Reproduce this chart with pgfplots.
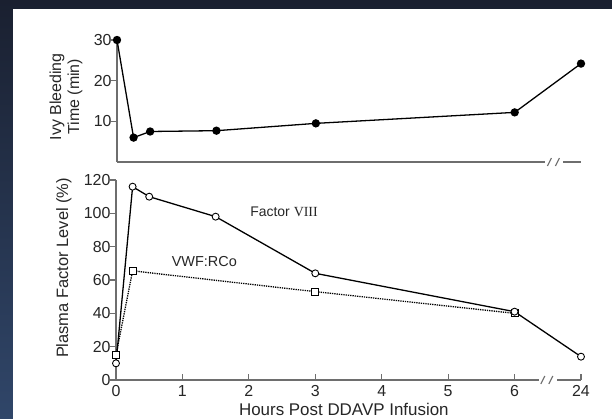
\documentclass[border=0pt]{standalone}
\usepackage{pgfplots}
\pgfplotsset{compat=1.18}
\usepackage{fontspec}
\setmainfont{Liberation Sans}
\newfontfamily\seriffont{Liberation Serif}
\definecolor{bgtop}{HTML}{1A2030}
\definecolor{bgbot}{HTML}{304669}
\definecolor{axgray}{HTML}{6E6E6E}
\pgfplotsset{
  panel/.style={
    scale only axis,
    axis lines=left,
    axis line style={-, draw=axgray, line width=1.1pt},
    tick style={draw=axgray, line width=1.1pt},
    major tick length=6bp,
    tick align=inside,
    ytick style={xshift=-6bp},
    clip=false,
    xmin=0, xmax=7,
    tick label style={font=\fontsize{16}{18}\selectfont, text=black!85},
    /pgf/number format/assume math mode=true,
  },
}
\begin{document}
\begin{tikzpicture}
\useasboundingbox (0bp,0bp) rectangle (612bp,419bp);
\shade[top color=bgtop, bottom color=bgbot] (0bp,0bp) rectangle (612bp,419bp);
\fill[white] (13bp,0bp) rectangle (612bp,410bp);

% Top panel: Ivy bleeding time
\begin{axis}[panel,
  at={(117bp,257bp)}, anchor=south west,
  width=464bp, height=122bp,
  ymin=0, ymax=30,
  ytick={10,20,30},
  xtick=\empty,
  yticklabel style={xshift=-2bp},
]
\addplot[black, line width=1.3pt, mark=*, mark size=3.5pt, mark options={fill=black}]
  coordinates {(0,30) (0.25,6) (0.5,7.5) (1.5,7.7) (3,9.5) (6,12.2) (7,24.2)};
\fill[white] ([xshift=-9bp,yshift=-5bp]axis cs:6.6,0) rectangle ([xshift=9bp,yshift=5bp]axis cs:6.6,0);
\draw[axgray, line width=1.1pt] ([xshift=-7bp,yshift=-4bp]axis cs:6.6,0) -- ++(4bp,8bp);
\draw[axgray, line width=1.1pt] ([xshift=1bp,yshift=-4bp]axis cs:6.6,0) -- ++(4bp,8bp);
\node[align=center, rotate=90, anchor=center, font=\fontsize{16}{18}\selectfont, text=black!85]
  at (axis description cs:-0.11,0.535) {Ivy Bleeding\\Time (min)};
\end{axis}

% Bottom panel: plasma factor levels
\begin{axis}[panel,
  at={(116bp,39bp)}, anchor=south west,
  width=465bp, height=200bp,
  ymin=0, ymax=120,
  ytick={0,20,...,120},
  xtick={0,1,2,3,4,5,6,7},
  xticklabels={0,1,2,3,4,5,6,24},
  yticklabel style={xshift=-2bp},
  xticklabel style={yshift=-2bp},
]
\addplot[black, line width=1.3pt, densely dotted, mark=square*, mark size=3.4pt,
  mark options={solid, fill=white, draw=black, line width=0.9pt}]
  coordinates {(0,15) (0.25,65.5) (3,53) (6,40)};
\addplot[black, line width=1.3pt, mark=*, mark size=3.5pt,
  mark options={fill=white, draw=black, line width=0.9pt}]
  coordinates {(0,10) (0.25,116) (0.5,110) (1.5,98) (3,64) (6,41) (7,14)};
\fill[white] ([xshift=-9bp,yshift=-5bp]axis cs:6.5,0) rectangle ([xshift=9bp,yshift=5bp]axis cs:6.5,0);
\draw[axgray, line width=1.1pt] ([xshift=-7bp,yshift=-4bp]axis cs:6.5,0) -- ++(4bp,8bp);
\draw[axgray, line width=1.1pt] ([xshift=1bp,yshift=-4bp]axis cs:6.5,0) -- ++(4bp,8bp);
\node[font=\fontsize{14}{16}\selectfont, text=black!85] at (axis cs:2.53,101) {Factor {\seriffont VIII}};
\node[font=\fontsize{14.5}{16}\selectfont, text=black!85] at (axis cs:1.33,71) {VWF:RCo};
\node[rotate=90, anchor=center, font=\fontsize{16.5}{18}\selectfont, text=black!85]
  at (axis description cs:-0.112,0.56) {Plasma Factor Level (\%)};
\node[anchor=center, font=\fontsize{17}{19}\selectfont, text=black!85]
  at (axis description cs:0.49,-0.145) {Hours Post DDAVP Infusion};
\end{axis}
\end{tikzpicture}
\end{document}
